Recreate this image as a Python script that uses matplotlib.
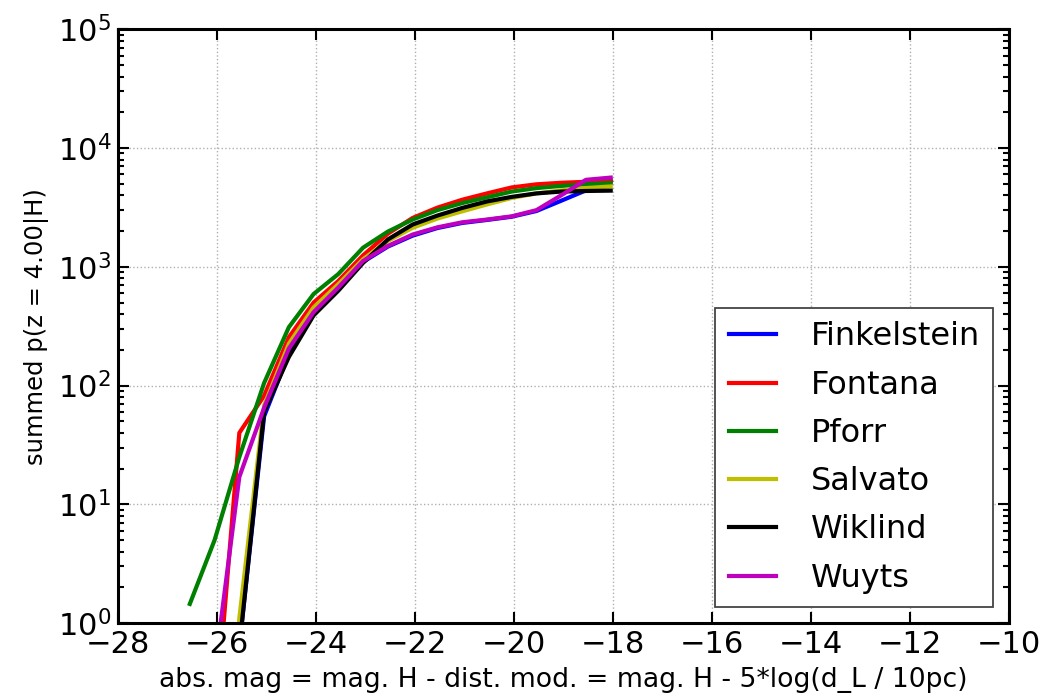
import matplotlib
matplotlib.use("Agg")
import matplotlib.pyplot as plt
import numpy as np

plt.rcParams['font.family'] = ['DejaVu Sans']
plt.rcParams['mathtext.fontset'] = 'dejavusans'

# absolute magnitude bin centres
abs_mag = [-26.55, -26.05, -25.55, -25.05, -24.55, -24.05, -23.55, -23.05, -22.55,
           -22.05, -21.55, -21.05, -20.55, -20.05, -19.55, -19.05, -18.55, -18.05]

finkelstein = [0.001, 0.001, 0.63, 55, 185, 400, 650, 1100, 1480,
               1830, 2120, 2340, 2480, 2640, 2950, 3600, 4400, 5300]
fontana = [0.01, 0.12, 40, 82, 255, 500, 760, 1250, 1900,
           2580, 3150, 3670, 4150, 4660, 4950, 5100, 5200, 5250]
pforr = [1.45, 5.0, 25, 105, 310, 590, 870, 1450, 1980,
         2500, 3000, 3440, 3850, 4300, 4600, 4800, 4950, 5070]
salvato = [0.001, 0.001, 1.1, 68, 225, 455, 715, 1160, 1650,
           2130, 2550, 2930, 3350, 3800, 4150, 4400, 4600, 4750]
wiklind = [0.001, 0.001, 0.63, 60, 174, 390, 630, 1080, 1700,
           2270, 2700, 3130, 3550, 3880, 4150, 4300, 4350, 4380]
wuyts = [0.001, 0.4, 17, 65, 205, 415, 670, 1120, 1500,
         1870, 2150, 2370, 2500, 2660, 3000, 4000, 5400, 5640]

series_names = ['Finkelstein', 'Fontana', 'Pforr', 'Salvato', 'Wiklind', 'Wuyts']
series_values = [finkelstein, fontana, pforr, salvato, wiklind, wuyts]
series_colors = ['#0000ff', '#ff0000', '#008000', '#bfbf00', '#000000', '#bf00bf']

fig = plt.figure(figsize=(10.48, 6.97), dpi=100)
ax = fig.add_axes([0.1126, 0.106, 0.8505, 0.852])

for name, vals, col in zip(series_names, series_values, series_colors):
    ax.plot(abs_mag, vals, color=col, lw=3, label=name)

ax.set_yscale('log')
ax.set_xlim(-28, -10)
ax.set_ylim(1, 1e5)
ax.set_xticks(np.arange(-28, -9, 2))

ax.grid(True, which='major', linestyle=':', color='#b0b0b0', lw=1)
ax.tick_params(which='both', direction='in', top=True, right=True, width=1.5)
ax.tick_params(which='major', length=8, labelsize=22, pad=5)
ax.tick_params(which='minor', length=4)
for sp in ax.spines.values():
    sp.set_linewidth(2.2)

ax.set_xlabel('abs. mag = mag. H - dist. mod. = mag. H - 5*log(d_L / 10pc)', fontsize=19.2, labelpad=6)
ax.set_ylabel('summed p(z = 4.00|H)', fontsize=17.5, labelpad=6)

leg = ax.legend(loc='lower right', fontsize=23, fancybox=False, framealpha=1,
                handlelength=1.47, handletextpad=1.1, labelspacing=0.54, borderpad=0.42)
leg.get_frame().set_edgecolor('#444444')
leg.get_frame().set_linewidth(1.3)
for ln in leg.get_lines():
    ln.set_linewidth(3)

fig.savefig('out.png', dpi=100)
